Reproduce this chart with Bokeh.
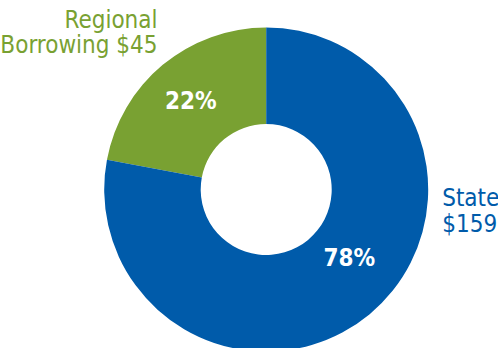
import math
from bokeh.plotting import figure
from bokeh.models import Range1d
from bokeh.core.properties import value
from bokeh.embed import file_html
from bokeh.resources import INLINE

# Data
categories = ["Regional\nBorrowing", "State"]
amounts = [45, 159]
colors = ["#79A132", "#005BAA"]

total = sum(amounts)
W, H = 498, 348
p = figure(width=W, height=H, output_backend="svg", toolbar_location=None,
           x_range=Range1d(0, W), y_range=Range1d(0, H), min_border=0)
p.axis.visible = False
p.grid.visible = False
p.outline_line_color = None
p.background_fill_color = "white"

cx, cy = 265.7, 159.0
r_in, r_out = 65.5, 162.0

starts, ends = [], []
a = math.pi / 2
for v in amounts:
    starts.append(a)
    a += 2 * math.pi * v / total
    ends.append(a)

p.annular_wedge(x=[cx] * 2, y=[cy] * 2, inner_radius=r_in, outer_radius=r_out,
                start_angle=starts, end_angle=ends, direction="anticlock",
                fill_color=colors, line_color=None)

font = value("DejaVu Sans Condensed")
fs = "24px"
dy = 7.0  # baseline correction

# percentage labels
pct = [f"{round(100 * v / total)}%" for v in amounts]
label_pos = [(118.0, (starts[0] + ends[0]) / 2), (106.0, math.radians(-38.4))]
for t, (rr, ang) in zip(pct, label_pos):
    lx = cx + rr * math.cos(ang)
    ly = cy + rr * math.sin(ang) - 9.5 + dy
    p.text(x=[lx], y=[ly], text=[t], text_font=font, text_font_style="bold",
           text_font_size=fs, text_color="white", text_align="center",
           text_baseline="alphabetic")

# category labels
reg_lines = categories[0].split("\n")
p.text(x=[157], y=[321.3 + dy], text=[reg_lines[0]], text_font=font, text_font_size=fs,
       text_color=colors[0], text_align="right", text_baseline="alphabetic")
p.text(x=[157], y=[297 + dy], text=[f"{reg_lines[1]} ${amounts[0]}"], text_font=font,
       text_font_size=fs, text_color=colors[0], text_align="right",
       text_baseline="alphabetic")
p.text(x=[441.7], y=[144 + dy], text=[categories[1]], text_font=font, text_font_size=fs,
       text_color=colors[1], text_align="left", text_baseline="alphabetic")
p.text(x=[441.7], y=[118 + dy], text=[f"${amounts[1]}"], text_font=font, text_font_size=fs,
       text_color=colors[1], text_align="left", text_baseline="alphabetic")

open("out.html", "w").write(file_html(p, INLINE))
